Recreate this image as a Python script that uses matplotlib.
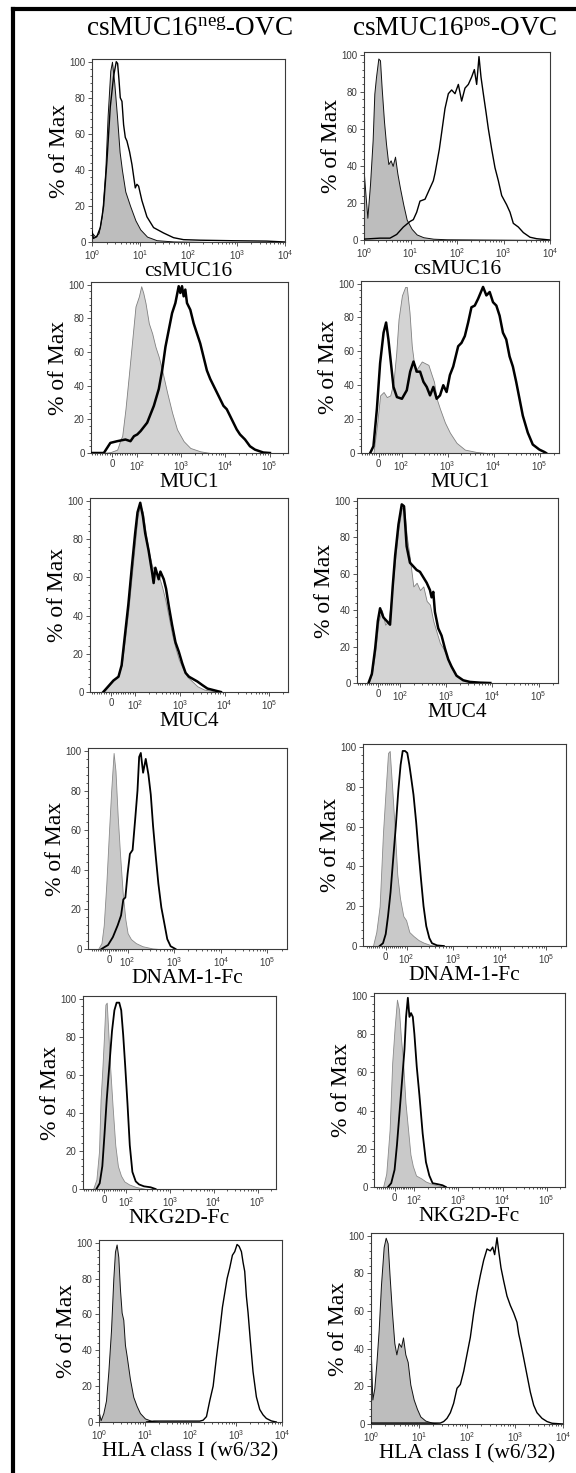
import numpy as np
import matplotlib.pyplot as plt
from matplotlib.lines import Line2D
from matplotlib.ticker import FixedLocator, MultipleLocator, LogLocator, NullFormatter

plt.rcParams['font.family'] = ['Liberation Serif', 'DejaVu Serif']
plt.rcParams['mathtext.fontset'] = 'custom'
plt.rcParams['mathtext.rm'] = 'Liberation Serif'
plt.rcParams['mathtext.sf'] = 'Liberation Sans'
plt.rcParams['mathtext.it'] = 'Liberation Serif:italic'
plt.rcParams['mathtext.bf'] = 'Liberation Serif:bold'

W, H = 576, 1473

# --- datos: (intensidad, % of Max) ---
# csMUC16 y HLA: eje log, intensidad guardada como log10
csmuc16_neg_iso = [(0, 5), (0.069, 3), (0.138, 5), (0.207, 15), (0.276, 40), (0.324, 70), (0.379, 95),
                   (0.414, 100), (0.462, 88), (0.517, 70), (0.572, 50), (0.62, 40), (0.69, 28), (0.79, 20),
                   (0.9, 12), (1.0, 7), (1.14, 3), (1.34, 1), (1.69, 0.3), (2.5, 0), (4.0, 0)]
csmuc16_neg_open = [(0.0, 6), (0.03, 2), (0.1, 3), (0.172, 8), (0.241, 20), (0.31, 45), (0.379, 75),
                    (0.448, 92), (0.503, 100), (0.531, 99), (0.559, 90), (0.586, 80), (0.621, 78), (0.655, 65),
                    (0.69, 58), (0.724, 56), (0.779, 50), (0.828, 43), (0.897, 30), (0.931, 32), (0.966, 31),
                    (1.034, 23), (1.138, 14), (1.276, 8), (1.483, 5), (1.69, 2.4), (1.897, 1.3), (2.241, 1),
                    (2.931, 0.7), (3.621, 0.5), (4.0, 0)]
csmuc16_pos_iso = [(0, 35), (0.03, 25), (0.072, 12), (0.129, 30), (0.186, 54), (0.222, 79), (0.258, 88),
                   (0.308, 98), (0.344, 97), (0.38, 82), (0.43, 64), (0.473, 52), (0.523, 41), (0.573, 43),
                   (0.616, 40), (0.667, 45), (0.717, 36), (0.774, 28), (0.846, 19), (0.918, 11), (1.025, 6),
                   (1.133, 3), (1.276, 1.5), (1.491, 0.7), (1.778, 0.4), (4.0, 0)]
csmuc16_pos_open = [(0, 0.5), (0.344, 1), (0.559, 1), (0.703, 3), (0.846, 7), (0.989, 10), (1.061, 11),
                    (1.133, 15), (1.204, 21), (1.312, 22), (1.419, 28), (1.491, 32), (1.527, 36), (1.563, 41),
                    (1.62, 49), (1.67, 58), (1.742, 71), (1.814, 79), (1.885, 81), (1.957, 79), (2.029, 84),
                    (2.1, 75), (2.172, 82), (2.244, 84), (2.315, 88), (2.373, 92), (2.423, 84), (2.473, 99),
                    (2.516, 88), (2.566, 79), (2.624, 69), (2.674, 60), (2.746, 49), (2.817, 39), (2.889, 32),
                    (2.961, 24), (3.068, 19), (3.14, 15), (3.211, 9), (3.319, 7), (3.427, 4), (3.57, 1.5),
                    (3.713, 0.7), (4.0, 0)]

# MUC1 / MUC4 / DNAM-1-Fc / NKG2D-Fc: eje biexponencial, intensidad lineal
muc1_neg_iso = [(-40, 0), (-7, 0.5), (20, 2), (27, 5), (33, 8), (40, 10), (53, 26), (67, 47), (80, 67),
                (93, 87), (109, 93), (123, 99), (137, 95), (154, 89), (183, 77), (218, 71), (259, 63),
                (308, 57), (367, 49), (475, 36), (616, 24), (798, 14), (1129, 7), (1597, 3), (2683, 1),
                (4510, 0)]
muc1_neg_open = [(-84, 0), (-33, 0), (-7, 6), (20, 7), (53, 8), (73, 7), (87, 10), (100, 11), (119, 13),
                 (168, 18), (238, 28), (308, 38), (367, 49), (436, 63), (518, 73), (616, 83), (732, 89),
                 (871, 99), (949, 95), (1035, 99), (1129, 93), (1230, 97), (1343, 89), (1597, 85),
                 (1899, 77), (2256, 71), (2683, 65), (3190, 57), (3793, 49), (4510, 44), (5360, 40),
                 (6375, 36), (7580, 32), (9010, 28), (10700, 26), (12740, 22), (15140, 18), (18000, 14),
                 (21400, 11), (27800, 8), (36000, 4), (46700, 2), (72000, 0.3), (102000, 0)]
muc1_pos_iso = [(-22, 0), (-7, 16), (7, 34), (22, 36), (36, 33), (51, 34), (65, 42), (77, 59), (87, 79),
                (102, 93), (120, 98), (130, 98), (149, 83), (167, 63), (197, 48), (233, 51), (275, 54),
                (324, 53), (383, 52), (452, 46), (507, 42), (579, 32), (684, 26), (875, 18), (1122, 12),
                (1563, 6), (2366, 2), (4227, 0.6), (6950, 0)]
muc1_pos_open = [(-36, 0), (-22, 4), (-7, 26), (7, 53), (22, 71), (33, 77), (43, 67), (54, 53), (65, 39),
                 (80, 33), (102, 32), (130, 37), (154, 48), (182, 54), (214, 48), (253, 48), (299, 42),
                 (352, 39), (416, 34), (491, 39), (579, 32), (684, 34), (806, 40), (951, 36), (1122, 46),
                 (1324, 51), (1698, 63), (2005, 65), (2366, 69), (2793, 77), (3296, 86), (3890, 87),
                 (4592, 91), (5888, 98), (6950, 93), (8200, 95), (9680, 89), (11430, 87), (13470, 81),
                 (15900, 71), (18760, 67), (22140, 57), (26130, 51), (30830, 42), (36390, 32), (42950, 22),
                 (55080, 12), (70630, 5), (98400, 2), (126000, 0.6), (137000, 0)]
muc4_neg_iso = [(-32, 0), (-11, 3), (10, 6), (31, 9), (44, 14), (58, 28), (72, 43), (86, 61), (100, 79),
                (113, 92), (130, 98), (149, 94), (168, 85), (200, 74), (238, 66), (283, 63), (336, 61),
                (400, 55), (475, 48), (565, 39), (671, 30), (798, 23), (949, 17), (1129, 13), (1463, 8),
                (1899, 5.5), (2460, 3), (3475, 1.3), (5850, 0.4), (8260, 0)]
muc4_neg_open = [(-32, 0), (-11, 3), (10, 6), (31, 8), (44, 14), (58, 30), (72, 46), (86, 65), (100, 83),
                 (113, 94), (130, 99), (149, 92), (168, 83), (200, 74), (238, 63), (259, 57), (283, 65),
                 (336, 59), (367, 63), (436, 59), (492, 54), (565, 45), (671, 35), (798, 26), (949, 21),
                 (1129, 15), (1343, 10), (1597, 8), (1899, 7), (2460, 5.5), (3190, 3.6), (4140, 1.8),
                 (5850, 0.9), (8260, 0)]
muc4_pos_iso = [(-42, 0), (-27, 5), (-12, 17), (3, 34), (18, 40), (33, 32), (48, 34), (63, 49), (78, 68),
                (93, 85), (109, 96), (122, 97), (139, 81), (164, 68), (194, 53), (229, 55), (270, 51),
                (319, 53), (377, 45), (444, 43), (524, 34), (618, 28), (729, 22), (861, 19), (1016, 15),
                (1199, 10), (1538, 5), (2143, 2), (3243, 0.6), (5330, 0)]
muc4_pos_open = [(-42, 0), (-27, 5), (-12, 19), (0, 34), (10, 41), (25, 36), (40, 34), (55, 32), (67, 53),
                 (78, 70), (93, 87), (109, 98), (122, 97), (139, 75), (164, 66), (194, 64), (229, 62),
                 (270, 61), (319, 58), (377, 55), (444, 51), (482, 47), (524, 50), (569, 39), (671, 30),
                 (792, 26), (935, 19), (1104, 13), (1303, 9), (1671, 4), (2328, 1.5), (3243, 0.6),
                 (5330, 0.2), (9000, 0)]
dnam_neg_iso = [(-58, 0), (-40, 3), (-28, 12), (-14, 33), (0, 59), (12, 80), (25, 99), (35, 90), (47, 67),
                (60, 47), (74, 28), (88, 15), (100, 8), (118, 5), (150, 3), (209, 1.4), (340, 0.3), (472, 0)]
dnam_neg_open = [(-40, 0), (-23, 1), (-5, 2), (21, 6), (47, 12), (65, 17), (77, 25), (88, 26), (100, 38),
                 (112, 48), (128, 50), (146, 66), (163, 80), (177, 97), (192, 99), (215, 89), (245, 96),
                 (280, 88), (314, 78), (352, 62), (401, 47), (457, 33), (529, 21), (602, 14), (709, 5),
                 (836, 1.4), (1067, 0)]
dnam_pos_iso = [(-61, 0), (-45, 7), (-29, 20), (-13, 57), (0, 79), (11, 97), (19, 98), (31, 79), (44, 57),
                (55, 36), (68, 24), (84, 15), (97, 13), (114, 7), (140, 5), (179, 3), (230, 1.7), (322, 0.5),
                (449, 0)]
dnam_pos_open = [(-29, 0), (-13, 1.4), (0, 6), (11, 15), (23, 27), (35, 43), (48, 60), (60, 78), (71, 91),
                 (81, 98), (92, 98), (103, 97), (114, 91), (124, 85), (140, 76), (160, 62), (179, 48),
                 (202, 34), (230, 20), (263, 10), (306, 4), (349, 1.4), (449, 0.3), (627, 0)]
nkg2d_neg_iso = [(-49, 0), (-34, 5), (-22, 20), (-15, 47), (-7, 63), (0, 79), (7, 97), (13, 98), (19, 85),
                 (28, 65), (40, 43), (52, 23), (64, 12), (78, 7), (93, 4), (119, 2.4), (168, 1.1), (283, 0)]
nkg2d_neg_open = [(-34, 0), (-19, 3), (-7, 12), (3, 29), (13, 47), (25, 65), (37, 83), (48, 94), (58, 98),
                  (70, 98), (79, 94), (88, 81), (97, 65), (109, 45), (123, 23), (141, 9), (168, 4), (200, 2.4),
                  (259, 1.4), (367, 0.9), (475, 0)]
nkg2d_pos_iso = [(-58, 0), (-42, 7), (-25, 30), (-12, 65), (0, 83), (12, 98), (22, 93), (32, 78), (42, 67),
                 (55, 44), (68, 30), (80, 17), (92, 11), (109, 6), (141, 4.6), (183, 2.8), (259, 1.5),
                 (367, 0.6), (518, 0)]
nkg2d_pos_open = [(-33, 0), (-17, 2), (0, 9), (12, 22), (25, 39), (38, 56), (50, 72), (58, 89), (67, 99),
                  (75, 89), (83, 91), (92, 89), (100, 80), (113, 63), (130, 48), (154, 28), (183, 13),
                  (218, 6), (259, 2), (336, 1.5), (436, 0.9), (518, 0)]

hla_neg_iso = [(0, 5), (0.036, 1), (0.095, 5), (0.153, 12), (0.204, 28), (0.262, 51), (0.313, 80),
               (0.349, 95), (0.385, 99), (0.422, 92), (0.458, 74), (0.495, 61), (0.531, 57), (0.567, 43),
               (0.604, 37), (0.676, 24), (0.749, 14), (0.822, 9), (0.895, 5), (1.004, 2), (1.149, 0.6),
               (1.331, 0)]
hla_neg_open = [(1.04, 0), (1.2, 0.5), (2.204, 0.5), (2.276, 1), (2.349, 3), (2.422, 12), (2.495, 20),
                (2.567, 36), (2.64, 51), (2.698, 64), (2.749, 72), (2.8, 80), (2.858, 86), (2.916, 93),
                (2.967, 95), (3.018, 99), (3.062, 98), (3.113, 95), (3.149, 89), (3.185, 84), (3.222, 70),
                (3.258, 61), (3.309, 45), (3.367, 28), (3.44, 14), (3.513, 7), (3.585, 4), (3.658, 2),
                (3.767, 0.6), (3.876, 0)]
hla_pos_iso = [(0, 35), (0.028, 13), (0.069, 19), (0.111, 32), (0.16, 50), (0.208, 74), (0.264, 94),
               (0.306, 99), (0.347, 96), (0.389, 78), (0.4375, 59), (0.486, 43), (0.528, 37), (0.576, 43),
               (0.625, 41), (0.667, 46), (0.715, 37), (0.764, 33), (0.819, 21), (0.889, 13), (0.958, 8),
               (1.028, 4), (1.132, 1.8), (1.271, 0.7), (1.444, 0)]
hla_pos_open = [(0, 0.5), (1.375, 0.5), (1.444, 0.5), (1.514, 1.3), (1.583, 3), (1.653, 6), (1.722, 11),
                (1.792, 19), (1.861, 21), (1.931, 28), (2.0, 37), (2.069, 46), (2.139, 59), (2.208, 70),
                (2.278, 79), (2.347, 87), (2.417, 93), (2.486, 92), (2.535, 94), (2.576, 90), (2.625, 99),
                (2.66, 92), (2.708, 83), (2.764, 76), (2.833, 68), (2.903, 63), (2.972, 59), (3.042, 54),
                (3.076, 48), (3.111, 44), (3.181, 35), (3.25, 26), (3.319, 17), (3.389, 10), (3.458, 6),
                (3.563, 3), (3.667, 1.3), (3.771, 0.4), (4.0, 0)]

column_titles = [r'csMUC16$^{\mathrm{neg}}$-OVC', r'csMUC16$^{\mathrm{pos}}$-OVC']
row_labels = ['csMUC16', 'MUC1', 'MUC4', 'DNAM-1-Fc', 'NKG2D-Fc', 'HLA class I (w6/32)']

# --- estilos por fila: (relleno, borde del relleno, ancho borde, ancho linea negra) ---
LOOKS = {
    'log': ('#bdbdbd', '#111111', 0.7, 1.0),
    'muc': ('#d3d3d3', '#808080', 0.6, 1.8),
    'fc':  ('#c9c9c9', '#8a8a8a', 0.6, 1.3),
}

# paneles: caja en pixeles (izq, arriba, der, abajo), escala, params biexp (xmin, linscale)
panels = [
    ((92, 59, 285, 242), csmuc16_neg_iso, csmuc16_neg_open, 'log', None, 'log', 0),
    ((364, 52, 550, 240), csmuc16_pos_iso, csmuc16_pos_open, 'log', None, 'log', 0),
    ((91, 282, 288, 453), muc1_neg_iso, muc1_neg_open, 'symlog', (-84, 0.513), 'muc', 1),
    ((361, 281, 559, 453), muc1_pos_iso, muc1_pos_open, 'symlog', (-76, 0.45), 'muc', 1),
    ((90, 498, 288, 692), muc4_neg_iso, muc4_neg_open, 'symlog', (-87, 0.486), 'muc', 2),
    ((357, 498, 558, 683), muc4_pos_iso, muc4_pos_open, 'symlog', (-94, 0.432), 'muc', 2),
    ((88, 748, 287, 949), dnam_neg_iso, dnam_neg_open, 'symlog', (-112, 0.36), 'fc', 3),
    ((363, 744, 566, 946), dnam_pos_iso, dnam_pos_open, 'symlog', (-109, 0.405), 'fc', 3),
    ((83, 996, 276, 1189), nkg2d_neg_iso, nkg2d_neg_open, 'symlog', (-95, 0.45), 'fc', 4),
    ((374, 993, 565, 1187), nkg2d_pos_iso, nkg2d_pos_open, 'symlog', (-104, 0.405), 'fc', 4),
    ((99, 1240, 282, 1422), hla_neg_iso, hla_neg_open, 'log', None, 'log', 5),
    ((371, 1233, 563, 1424), hla_pos_iso, hla_pos_open, 'log', None, 'log', 5),
]

fig = plt.figure(figsize=(W / 100, H / 100), dpi=100)

for box, iso, stain, scale, bx, look, row in panels:
    l, t, r, b = box
    ax = fig.add_axes([l / W, 1 - b / H, (r - l) / W, (b - t) / H])
    fill_c, edge_c, edge_w, line_w = LOOKS[look]

    xi, yi = np.array(iso, dtype=float).T
    xs, ys = np.array(stain, dtype=float).T
    if scale == 'log':
        xi, xs = 10 ** xi, 10 ** xs
        ax.set_xscale('log')
        ax.set_xlim(1, 1e4)
        ax.xaxis.set_major_locator(FixedLocator([1, 10, 100, 1000, 10000]))
        ax.set_xticklabels([r'$\mathsf{10^{%d}}$' % k for k in range(5)])
        ax.xaxis.set_minor_locator(LogLocator(base=10, subs=np.arange(2, 10)))
        ax.xaxis.set_minor_formatter(NullFormatter())
    else:
        xmin, ls = bx
        ax.set_xscale('symlog', linthresh=100, linscale=ls, base=10)
        ax.set_xlim(xmin, 262144)
        ax.xaxis.set_major_locator(FixedLocator([0, 1e2, 1e3, 1e4, 1e5]))
        ax.set_xticklabels(['0'] + [r'$\mathsf{10^{%d}}$' % k for k in range(2, 6)])
        minors = [v for v in range(-90, 100, 10) if v != 0 and v > xmin]
        minors += [m * 10 ** k for k in range(2, 6) for m in range(2, 10) if m * 10 ** k < 262144]
        ax.xaxis.set_minor_locator(FixedLocator(minors))
        ax.xaxis.set_minor_formatter(NullFormatter())

    ax.fill_between(xi, yi, 0, facecolor=fill_c, edgecolor=edge_c, linewidth=edge_w, zorder=2)
    ax.plot(xs, ys, color='black', linewidth=line_w, zorder=3, solid_joinstyle='round')

    ax.set_ylim(0, 101.5)
    ax.yaxis.set_major_locator(FixedLocator(range(0, 101, 20)))
    ax.yaxis.set_minor_locator(MultipleLocator(4))

    for sp in ax.spines.values():
        sp.set_color('#3a3a3a')
        sp.set_linewidth(0.8)
    ax.tick_params(which='both', direction='out', colors='#3a3a3a', width=0.6,
                   labelsize=7, labelfontfamily='Liberation Sans', pad=1.5)
    ax.tick_params(which='major', length=3)
    ax.tick_params(which='minor', length=1.6)

    ax.set_ylabel('% of Max', fontsize=17, labelpad=0)
    ax.set_xlabel(row_labels[row], fontsize=15.5, labelpad=0)

fig.text(189 / W, 1 - 30 / H, column_titles[0], fontsize=19.5, ha='center', va='center')
fig.text(455 / W, 1 - 30 / H, column_titles[1], fontsize=19.5, ha='center', va='center')

# marco exterior (izquierda y arriba)
fig.add_artist(Line2D([13 / W, 13 / W], [0, 1 - 9 / H], color='black', linewidth=3))
fig.add_artist(Line2D([13 / W, 1], [1 - 9 / H, 1 - 9 / H], color='black', linewidth=3))

fig.savefig('out.png', dpi=100)
